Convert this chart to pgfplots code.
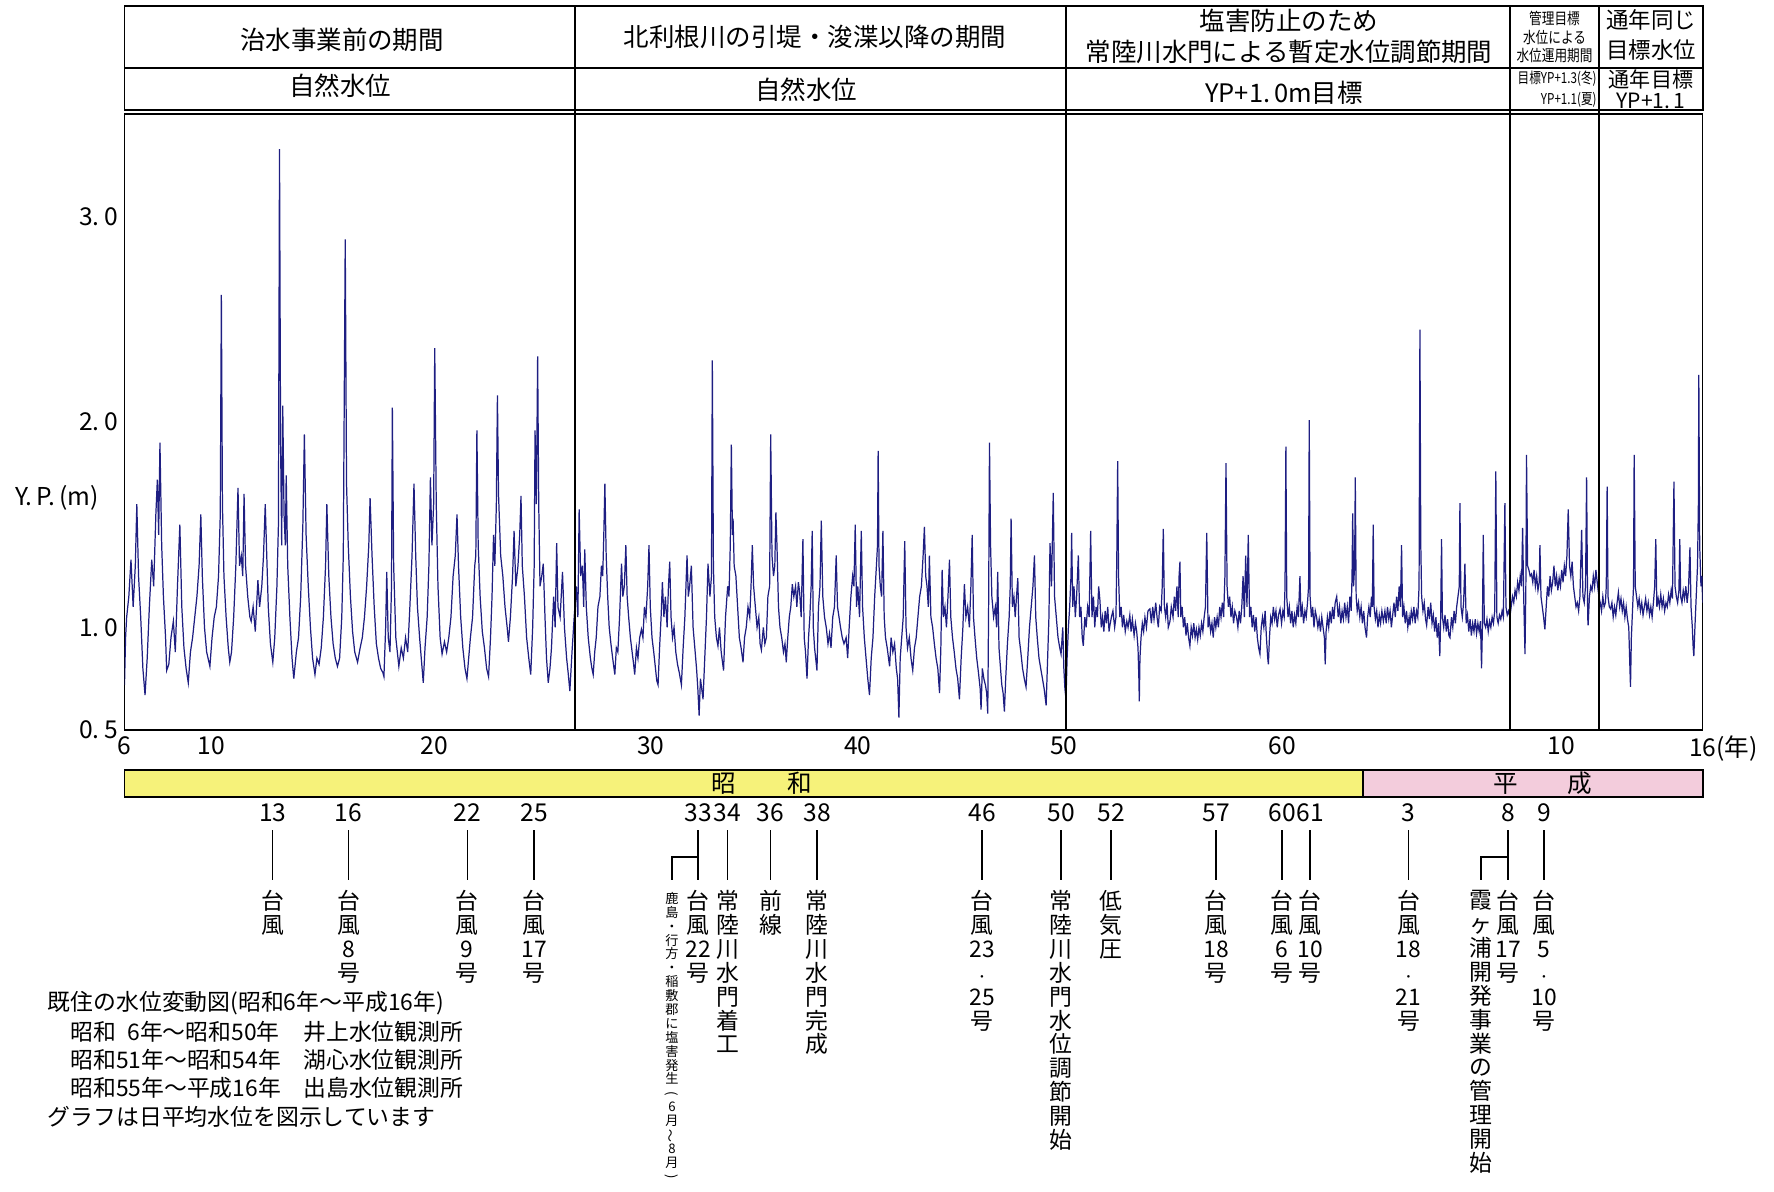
\documentclass[border=0pt]{standalone}
\usepackage{pgfplots}
\pgfplotsset{compat=1.18}
\usepackage{graphicx}
\usepackage{fontspec}
\setmainfont{Noto Sans CJK JP}
\definecolor{navyline}{RGB}{30,30,130}
\definecolor{showa}{RGB}{246,242,122}
\definecolor{heisei}{RGB}{243,204,220}
\begin{document}
\begin{tikzpicture}[x=0.02cm,y=-0.02cm]
\useasboundingbox (0,0) rectangle (1774,1191);
\coordinate (plotSW) at (124.5,730);
\begin{axis}[at={(plotSW)}, anchor=south west, scale only axis,
  width=31.57cm, height=12.32cm,
  xmin=6, xmax=79.0, ymin=0.5, ymax=3.5,
  axis line style={black, line width=0.8pt},
  major tick length=0pt,
  xtick={6,10.03,20.34,30.34,39.92,49.45,59.55,72.47,79.0},
  xticklabels={6,10,20,30,40,50,60,10,16\rlap{(年)}},
  ytick={0.5,1,2,3},
  yticklabels={0.\hspace{0.2em}5,1.\hspace{0.2em}0,2.\hspace{0.2em}0,3.\hspace{0.2em}0},
  tick label style={font=\fontsize{14}{14}\selectfont},
  clip=true]
\addplot[navyline, line width=0.7pt, mark=none] coordinates {
(6.0,0.72)(6.05,0.95)(6.1,1.05)(6.2,1.15)(6.3,1.33)(6.4,1.10)(6.5,1.30)(6.57,1.60)(6.65,1.25)(6.75,1.05)(6.85,0.80)(6.95,0.67)
(7.05,0.85)(7.15,1.10)(7.26,1.33)(7.35,1.20)(7.45,1.55)(7.52,1.72)(7.58,1.45)(7.64,1.90)(7.72,1.40)(7.8,1.15)(7.9,0.95)(7.95,0.79)
(8.05,0.82)(8.15,0.95)(8.26,1.03)(8.35,0.88)(8.45,1.20)(8.56,1.50)(8.65,1.10)(8.75,0.90)(8.85,0.80)(8.95,0.73)
(9.05,0.88)(9.15,0.95)(9.25,1.05)(9.35,1.15)(9.45,1.30)(9.53,1.55)(9.6,1.25)(9.7,1.00)(9.8,0.88)(9.95,0.81)
(10.05,0.95)(10.15,1.05)(10.25,1.10)(10.35,1.25)(10.43,1.55)(10.48,2.62)(10.53,1.60)(10.6,1.25)(10.7,1.05)(10.8,0.90)(10.87,0.83)(10.95,0.88)
(11.05,1.05)(11.15,1.30)(11.25,1.68)(11.32,1.30)(11.4,1.35)(11.47,1.25)(11.53,1.65)(11.6,1.30)(11.7,1.15)(11.8,1.05)(11.86,1.03)(11.95,1.10)
(12.05,0.98)(12.17,1.23)(12.25,1.10)(12.35,1.20)(12.43,1.35)(12.51,1.60)(12.58,1.35)(12.65,1.10)(12.75,0.92)(12.86,0.83)(12.95,0.95)
(13.05,1.20)(13.12,1.50)(13.17,3.33)(13.22,1.90)(13.27,1.40)(13.32,2.08)(13.38,1.55)(13.44,1.40)(13.48,1.74)(13.55,1.30)(13.65,1.05)(13.75,0.85)(13.83,0.75)(13.95,0.88)
(14.05,0.95)(14.15,1.15)(14.25,1.50)(14.32,1.94)(14.4,1.45)(14.5,1.20)(14.6,1.00)(14.7,0.85)(14.81,0.77)(14.9,0.85)
(15.0,0.82)(15.1,0.90)(15.2,1.05)(15.3,1.30)(15.36,1.60)(15.45,1.25)(15.55,1.05)(15.65,0.92)(15.75,0.85)(15.85,0.81)(15.95,0.85)
(16.05,1.05)(16.12,1.35)(16.21,2.89)(16.27,1.70)(16.35,1.40)(16.45,1.15)(16.55,0.98)(16.65,0.88)(16.78,0.83)(16.9,0.90)
(17.0,0.95)(17.1,1.05)(17.2,1.20)(17.3,1.40)(17.36,1.63)(17.45,1.35)(17.55,1.10)(17.65,0.92)(17.75,0.85)(17.85,0.80)(17.95,0.78)
(18.0,0.76)(18.08,1.00)(18.13,1.27)(18.2,0.95)(18.28,0.88)(18.35,1.20)(18.39,2.07)(18.45,1.30)(18.55,0.95)(18.62,0.88)(18.69,0.81)(18.8,0.90)(18.9,0.85)
(19.0,0.95)(19.1,0.88)(19.2,1.10)(19.3,1.35)(19.39,1.70)(19.47,1.35)(19.55,1.10)(19.65,0.95)(19.75,0.82)(19.82,0.73)(19.9,0.90)
(20.0,1.05)(20.08,1.30)(20.15,1.73)(20.22,1.40)(20.3,1.60)(20.35,2.36)(20.42,1.60)(20.5,1.20)(20.6,0.95)(20.69,0.87)(20.8,0.93)(20.9,0.88)
(21.0,0.95)(21.1,1.05)(21.2,1.25)(21.3,1.35)(21.38,1.55)(21.45,1.30)(21.55,1.05)(21.65,0.90)(21.75,0.80)(21.84,0.75)(21.92,0.85)
(22.0,0.95)(22.1,1.05)(22.2,1.30)(22.25,1.35)(22.3,1.96)(22.36,1.40)(22.45,1.15)(22.55,0.98)(22.65,0.90)(22.75,0.80)(22.84,0.76)(22.93,0.95)
(23.0,1.15)(23.07,1.45)(23.13,1.30)(23.2,1.60)(23.25,2.13)(23.3,1.65)(23.4,1.35)(23.5,1.25)(23.6,1.10)(23.7,1.00)(23.76,0.93)(23.85,1.05)(23.95,1.25)
(24.02,1.47)(24.1,1.20)(24.2,1.30)(24.28,1.45)(24.34,1.64)(24.4,1.30)(24.5,1.15)(24.6,0.95)(24.7,0.85)(24.79,0.77)(24.88,1.00)(24.95,1.30)(24.99,1.96)
(25.05,1.60)(25.11,2.32)(25.16,1.60)(25.22,1.20)(25.3,1.25)(25.37,1.31)(25.45,1.05)(25.52,0.85)(25.6,0.73)(25.68,0.80)(25.75,0.90)(25.85,1.15)(25.92,1.00)(25.99,1.41)
(26.05,1.10)(26.15,1.05)(26.26,1.27)(26.35,1.00)(26.45,0.85)(26.52,0.78)(26.6,0.69)(26.7,0.88)(26.8,1.05)
(26.9,1.20)(26.97,1.05)(27.03,1.575)(27.1,1.25)(27.18,1.30)(27.24,1.10)(27.29,1.38)(27.36,1.10)(27.45,0.95)(27.55,0.85)(27.62,0.80)(27.68,0.77)(27.75,0.88)(27.82,0.95)(27.9,1.10)(27.99,1.15)
(28.06,1.30)(28.12,1.25)(28.17,1.45)(28.22,1.70)(28.28,1.35)(28.35,1.15)(28.42,1.00)(28.5,0.92)(28.58,0.85)(28.68,0.77)(28.75,0.90)(28.82,0.88)(28.9,1.05)(28.99,1.31)
(29.05,1.15)(29.12,1.20)(29.19,1.40)(29.25,1.15)(29.32,1.05)(29.4,0.95)(29.48,0.88)(29.55,0.82)(29.6,0.77)(29.68,0.90)(29.75,0.85)(29.83,0.95)(29.91,0.99)(29.98,0.95)
(30.05,1.10)(30.12,1.05)(30.2,1.20)(30.26,1.40)(30.32,1.10)(30.4,0.95)(30.48,0.88)(30.56,0.80)(30.62,0.74)(30.68,0.72)(30.75,0.90)(30.82,1.05)(30.88,1.22)(30.95,1.05)
(31.02,1.15)(31.1,1.00)(31.16,1.20)(31.22,1.32)(31.28,1.05)(31.35,0.95)(31.42,1.00)(31.5,0.88)(31.58,0.82)(31.66,0.78)(31.76,0.72)(31.84,0.90)(31.92,1.05)
(32.02,1.35)(32.08,1.15)(32.14,1.20)(32.22,1.30)(32.3,1.00)(32.38,0.90)(32.46,0.80)(32.52,0.70)(32.58,0.57)(32.64,0.75)(32.7,0.70)(32.76,0.65)(32.84,0.85)(32.92,1.05)(32.99,1.31)
(33.08,1.15)(33.15,1.25)(33.19,2.30)(33.24,1.30)(33.3,1.05)(33.38,0.95)(33.45,0.91)(33.52,1.00)(33.6,0.88)(33.71,0.79)(33.8,1.05)(33.9,1.20)(33.96,1.15)
(34.02,1.40)(34.07,1.89)(34.12,1.45)(34.15,1.53)(34.2,1.30)(34.28,1.25)(34.36,1.10)(34.44,0.95)(34.52,0.90)(34.61,0.83)(34.68,0.95)(34.76,1.00)(34.84,1.10)(34.92,1.05)(34.98,1.20)
(35.04,1.40)(35.1,1.20)(35.18,1.10)(35.26,1.00)(35.34,1.05)(35.4,0.92)(35.46,0.89)(35.55,1.00)(35.62,0.92)(35.69,0.95)(35.76,1.15)(35.84,1.20)(35.89,1.94)(35.95,1.35)
(36.02,1.25)(36.08,1.30)(36.13,1.56)(36.18,1.40)(36.25,1.10)(36.32,1.00)(36.4,0.95)(36.48,0.88)(36.55,0.92)(36.61,0.83)(36.68,0.95)(36.75,1.05)(36.82,1.10)(36.89,1.21)(36.96,1.15)
(37.04,1.20)(37.1,1.10)(37.17,1.22)(37.23,1.17)(37.3,1.05)(37.38,1.43)(37.44,0.95)(37.5,0.88)(37.57,0.75)(37.64,0.95)(37.7,1.05)(37.76,1.20)(37.81,1.47)(37.86,1.00)(37.92,0.90)(37.97,0.85)
(38.03,0.79)(38.1,1.10)(38.17,1.20)(38.23,1.52)(38.3,1.15)(38.38,1.05)(38.46,1.00)(38.54,0.92)(38.61,0.97)(38.68,0.90)(38.76,1.05)(38.84,1.10)(38.92,1.35)(38.98,1.10)
(39.05,1.05)(39.12,1.00)(39.2,0.95)(39.28,0.92)(39.38,0.95)(39.45,0.85)(39.52,1.00)(39.6,1.15)(39.68,1.25)(39.74,1.20)(39.8,1.50)(39.86,1.10)(39.92,1.20)
(40.0,1.05)(40.08,1.47)(40.14,1.10)(40.22,0.95)(40.3,0.85)(40.38,0.75)(40.46,0.67)(40.54,0.85)(40.62,0.95)(40.7,1.15)(40.78,1.30)(40.83,1.40)(40.86,1.86)(40.9,1.30)(40.96,1.20)
(41.02,1.15)(41.08,1.47)(41.14,1.05)(41.2,0.95)(41.28,0.90)(41.34,0.85)(41.39,0.81)(41.46,0.95)(41.54,0.88)(41.62,0.92)(41.7,0.80)(41.76,0.75)(41.82,0.56)(41.88,0.85)(41.95,0.95)
(42.02,1.05)(42.09,1.42)(42.15,1.00)(42.22,0.90)(42.3,0.95)(42.38,0.85)(42.46,0.79)(42.54,0.90)(42.62,0.95)(42.7,1.05)(42.78,1.15)(42.86,1.20)(42.94,1.35)
(43.0,1.49)(43.06,1.25)(43.12,1.20)(43.18,1.10)(43.23,1.35)(43.3,1.05)(43.38,1.00)(43.46,0.92)(43.54,0.85)(43.62,0.80)(43.7,0.68)(43.76,0.90)(43.82,1.28)(43.88,1.05)(43.95,1.10)
(44.02,1.00)(44.09,1.15)(44.16,1.33)(44.22,1.05)(44.3,0.95)(44.38,0.88)(44.46,0.80)(44.54,0.75)(44.62,0.65)(44.7,0.85)(44.78,1.00)(44.85,1.21)(44.92,1.05)
(45.0,1.10)(45.08,1.00)(45.15,1.20)(45.21,1.45)(45.27,1.05)(45.34,0.95)(45.42,0.85)(45.5,0.78)(45.58,0.70)(45.62,0.60)(45.68,0.80)(45.75,0.75)(45.82,0.72)(45.88,0.68)(45.93,0.58)(45.97,1.10)
(46.01,1.90)(46.06,1.40)(46.12,1.15)(46.2,1.05)(46.28,1.10)(46.34,1.00)(46.39,1.27)(46.45,0.90)(46.52,0.80)(46.58,0.72)(46.64,0.68)(46.7,0.59)(46.76,0.75)(46.84,0.92)(46.92,1.05)(46.97,1.20)
(47.01,1.53)(47.07,1.10)(47.14,1.15)(47.2,1.05)(47.26,1.15)(47.32,1.24)(47.38,0.95)(47.46,0.88)(47.54,0.80)(47.62,0.75)(47.7,0.71)(47.78,0.85)(47.86,1.00)(47.94,1.10)
(48.02,1.20)(48.09,1.35)(48.15,1.05)(48.22,0.95)(48.3,0.85)(48.38,0.80)(48.46,0.75)(48.54,0.70)(48.63,0.62)(48.7,0.85)(48.76,1.05)(48.81,1.41)(48.88,1.20)(48.96,1.655)
(49.02,1.15)(49.1,1.05)(49.18,0.95)(49.26,0.90)(49.32,0.87)(49.4,1.00)(49.45,0.80)(49.5,0.70)(49.55,0.65)
(49.6,0.85)(49.66,1.00)(49.72,1.10)(49.78,1.25)(49.81,1.46)(49.86,1.10)(49.92,1.20)(49.98,1.05)
(50.04,1.15)(50.12,1.35)(50.18,1.05)(50.24,1.10)(50.3,0.95)(50.35,0.91)(50.42,1.05)(50.48,1.00)(50.55,1.10)(50.62,1.05)(50.69,1.47)(50.75,1.05)(50.82,1.15)(50.88,1.00)(50.94,1.10)
(51.0,1.05)(51.06,1.20)(51.12,1.13)(51.18,1.00)(51.24,1.05)(51.3,0.98)(51.36,1.08)(51.42,1.02)(51.48,1.10)(51.54,0.98)(51.58,1.01)(51.65,1.05)(51.72,1.08)(51.8,1.00)(51.86,1.05)(51.9,1.35)(51.94,1.81)(51.98,1.25)
(52.04,1.05)(52.1,1.10)(52.16,1.00)(52.22,1.06)(52.29,0.98)(52.36,1.03)(52.42,1.00)(52.5,1.06)(52.56,0.98)(52.62,1.04)(52.7,0.96)(52.76,1.02)(52.82,0.98)(52.88,0.90)(52.92,0.75)(52.94,0.64)(52.97,0.85)
(53.02,0.95)(53.08,1.02)(53.14,0.98)(53.2,1.05)(53.27,1.00)(53.34,1.08)(53.43,1.09)(53.5,1.02)(53.56,1.10)(53.62,1.04)(53.7,1.12)(53.76,1.05)(53.82,1.00)(53.88,1.10)(53.95,1.08)
(54.0,1.20)(54.05,1.48)(54.1,1.10)(54.16,1.05)(54.22,1.12)(54.28,1.00)(54.36,1.03)(54.42,1.10)(54.5,1.05)(54.56,1.15)(54.62,1.08)(54.68,1.20)(54.74,1.05)(54.78,1.25)(54.82,1.32)(54.86,1.05)(54.92,1.10)(54.98,1.00)
(55.04,1.05)(55.1,0.96)(55.16,1.02)(55.22,0.95)(55.28,0.91)(55.34,1.00)(55.4,0.96)(55.46,1.02)(55.52,0.95)(55.58,0.99)(55.64,0.94)(55.7,1.00)(55.76,0.96)(55.82,1.02)(55.88,0.98)(55.94,1.05)
(56.0,1.10)(56.06,1.46)(56.12,1.00)(56.18,1.04)(56.24,0.98)(56.3,1.02)(56.36,0.95)(56.42,1.05)(56.48,1.00)(56.54,1.05)(56.6,1.00)(56.66,1.10)(56.72,1.05)(56.78,1.12)(56.84,1.05)(56.9,1.25)(56.95,1.80)
(57.0,1.20)(57.06,1.10)(57.12,1.15)(57.18,1.05)(57.24,1.10)(57.3,1.02)(57.36,1.08)(57.44,1.05)(57.5,1.00)(57.56,1.08)(57.62,1.02)(57.68,1.10)(57.74,1.25)(57.8,1.05)(57.86,1.35)(57.92,1.10)(57.98,1.45)
(58.04,1.05)(58.1,1.10)(58.16,1.00)(58.22,1.06)(58.28,0.98)(58.34,1.05)(58.4,0.95)(58.46,0.90)(58.52,0.87)(58.58,1.00)(58.64,1.05)(58.7,1.00)(58.76,1.08)(58.82,0.95)(58.88,0.85)(58.91,0.82)(58.96,0.95)
(59.02,1.05)(59.08,1.02)(59.14,1.10)(59.2,1.04)(59.26,1.08)(59.32,1.00)(59.38,1.06)(59.45,1.09)(59.52,1.02)(59.58,1.08)(59.64,1.05)(59.68,1.20)(59.72,1.88)(59.76,1.15)(59.82,1.05)(59.88,1.10)(59.94,1.02)
(60.0,1.08)(60.06,1.00)(60.12,1.06)(60.18,1.02)(60.24,1.10)(60.3,1.05)(60.37,1.25)(60.42,1.05)(60.48,1.10)(60.54,1.02)(60.6,1.08)(60.66,1.05)(60.72,1.12)(60.77,1.20)(60.8,2.01)(60.84,1.15)(60.9,1.05)(60.96,1.10)
(61.02,1.00)(61.08,1.08)(61.14,1.05)(61.2,1.00)(61.26,1.04)(61.32,0.98)(61.38,1.05)(61.44,1.00)(61.5,0.95)(61.54,0.82)(61.58,0.98)(61.64,1.05)(61.7,1.00)(61.76,1.08)(61.82,1.02)(61.88,1.10)(61.94,1.04)
(62.0,1.12)(62.07,1.15)(62.14,1.05)(62.2,1.10)(62.26,1.02)(62.32,1.08)(62.38,1.04)(62.44,1.12)(62.5,1.05)(62.56,1.10)(62.62,1.02)(62.68,1.15)(62.74,1.08)(62.78,1.25)(62.81,1.555)(62.85,1.20)(62.9,1.30)(62.93,1.73)(62.97,1.15)
(63.02,1.08)(63.08,1.12)(63.14,1.05)(63.2,1.10)(63.26,1.02)(63.32,1.08)(63.38,1.00)(63.45,0.95)(63.5,1.05)(63.56,1.10)(63.62,1.05)(63.68,1.15)(63.72,1.10)(63.76,1.50)(63.8,1.10)(63.86,1.04)(63.92,1.08)(63.98,1.00)
(64.04,1.06)(64.1,1.02)(64.16,1.08)(64.23,1.03)(64.3,1.08)(64.36,1.02)(64.42,1.10)(64.48,1.04)(64.54,1.08)(64.6,1.00)(64.66,1.06)(64.72,1.12)(64.78,1.05)(64.84,1.15)(64.9,1.08)(64.96,1.20)
(65.02,1.10)(65.07,1.40)(65.12,1.05)(65.18,1.10)(65.24,1.02)(65.3,1.08)(65.36,1.00)(65.42,1.05)(65.46,1.01)(65.52,1.08)(65.58,1.04)(65.64,1.10)(65.7,1.02)(65.76,1.08)(65.82,1.05)(65.88,1.20)(65.92,2.45)(65.96,1.40)
(66.0,1.15)(66.06,1.08)(66.12,1.12)(66.18,1.04)(66.23,1.01)(66.3,1.10)(66.36,1.04)(66.42,1.12)(66.48,1.02)(66.54,1.06)(66.6,0.98)(66.66,1.05)(66.72,0.95)(66.78,1.02)(66.84,0.86)(66.88,1.05)(66.92,1.43)(66.96,1.05)
(67.02,1.00)(67.08,1.06)(67.14,0.98)(67.2,1.04)(67.26,0.96)(67.31,0.95)(67.38,1.05)(67.44,1.00)(67.5,1.08)(67.56,1.02)(67.62,1.10)(67.68,1.15)(67.74,1.20)(67.77,1.605)(67.82,1.10)(67.88,1.05)(67.94,1.12)
(68.0,1.31)(68.06,1.02)(68.12,1.06)(68.18,0.98)(68.24,1.04)(68.3,0.96)(68.36,1.02)(68.42,0.98)(68.48,1.04)(68.54,0.97)(68.6,1.02)(68.66,0.98)(68.72,1.03)(68.77,0.80)(68.81,1.00)(68.85,1.45)(68.9,1.02)(68.96,1.00)
(69.02,1.04)(69.08,0.98)(69.14,1.03)(69.2,1.00)(69.26,1.05)(69.32,1.02)(69.38,1.08)(69.43,1.76)(69.48,1.05)(69.54,1.02)(69.6,1.06)(69.66,1.04)(69.72,1.08)(69.78,1.05)(69.85,1.605)(69.9,1.10)(69.96,1.06)
(70.02,1.08)(70.08,1.05)(70.14,1.10)(70.2,1.15)(70.26,1.12)(70.32,1.18)(70.38,1.15)(70.44,1.22)(70.5,1.18)(70.56,1.25)(70.62,1.20)(70.67,1.485)(70.72,1.15)(70.78,0.87)(70.82,1.20)(70.85,1.84)(70.9,1.30)(70.96,1.28)
(71.02,1.25)(71.08,1.26)(71.14,1.22)(71.2,1.28)(71.26,1.20)(71.32,1.25)(71.38,1.18)(71.44,1.22)(71.47,1.40)(71.52,1.15)(71.58,1.10)(71.64,1.05)(71.7,0.99)(71.76,1.10)(71.82,1.20)(71.88,1.15)(71.94,1.25)
(72.0,1.18)(72.06,1.22)(72.12,1.30)(72.18,1.20)(72.24,1.25)(72.3,1.18)(72.36,1.24)(72.42,1.20)(72.48,1.28)(72.54,1.22)(72.6,1.30)(72.66,1.25)(72.72,1.35)(72.78,1.575)(72.84,1.30)(72.9,1.25)(72.96,1.32)
(73.02,1.20)(73.08,1.15)(73.14,1.10)(73.2,1.12)(73.26,1.08)(73.32,1.15)(73.4,1.475)(73.46,1.15)(73.52,1.12)(73.58,1.20)(73.63,1.73)(73.68,1.05)(73.7,1.01)(73.76,1.15)(73.82,1.20)(73.88,1.18)(73.94,1.25)
(74.0,1.20)(74.06,1.28)(74.12,1.22)(74.2,1.15)(74.26,1.12)(74.32,1.08)(74.38,1.15)(74.44,1.10)(74.5,1.12)(74.54,1.20)(74.58,1.685)(74.62,1.15)(74.68,1.10)(74.74,1.09)(74.8,1.12)(74.86,1.05)(74.92,1.10)(74.98,1.06)
(75.04,1.12)(75.1,1.17)(75.16,1.10)(75.22,1.14)(75.28,1.08)(75.34,1.12)(75.4,1.05)(75.46,1.10)(75.52,1.04)(75.58,1.00)(75.62,0.85)(75.66,0.71)(75.7,0.95)(75.76,1.10)(75.8,1.20)(75.83,1.84)(75.88,1.20)(75.94,1.15)
(76.0,1.10)(76.06,1.14)(76.12,1.08)(76.18,1.12)(76.24,1.06)(76.3,1.10)(76.36,1.14)(76.42,1.08)(76.48,1.12)(76.54,1.06)(76.6,1.10)(76.66,1.05)(76.72,1.12)(76.78,1.20)(76.83,1.43)(76.88,1.10)(76.94,1.14)
(77.0,1.10)(77.06,1.16)(77.12,1.10)(77.18,1.14)(77.24,1.08)(77.3,1.12)(77.36,1.10)(77.42,1.16)(77.48,1.12)(77.54,1.18)(77.6,1.14)(77.67,1.71)(77.72,1.20)(77.78,1.15)(77.84,1.12)(77.9,1.18)(77.94,1.43)(77.98,1.15)
(78.04,1.12)(78.1,1.18)(78.16,1.14)(78.22,1.20)(78.28,1.12)(78.34,1.18)(78.41,1.39)(78.46,1.10)(78.52,1.00)(78.56,0.90)(78.59,0.86)(78.64,1.00)(78.7,1.15)(78.76,1.30)(78.8,1.60)(78.82,2.23)(78.86,1.40)(78.92,1.20)(78.96,1.25)(79.0,1.12)
};
\end{axis}
% header
\draw[line width=0.8pt] (124.5,6) rectangle (1703,110);
\draw[line width=0.8pt] (124.5,68) -- (1703,68);
\foreach \xx in {574.8,1066,1509.9,1598.8} \draw[line width=0.8pt] (\xx,6) -- (\xx,730);
\begin{scope}[every node/.style={inner sep=0pt}]
\node[font=\fontsize{14.5}{14.5}\selectfont] at (342,40) {治水事業前の期間};
\node[font=\fontsize{14.5}{14.5}\selectfont] at (340,86) {自然水位};
\node[font=\fontsize{14.5}{14.5}\selectfont] at (815,37) {北利根川の引堤・浚渫以降の期間};
\node[font=\fontsize{14.5}{14.5}\selectfont] at (806,90) {自然水位};
\node[font=\fontsize{14.5}{17.6}\selectfont, align=center] at (1289,36) {塩害防止のため\\常陸川水門による暫定水位調節期間};
\node[font=\fontsize{14.5}{14.5}\selectfont] at (1284,93) {YP+1.\hspace{0.15em}0m目標};
\node[font=\fontsize{9}{10.5}\selectfont, align=center] at (1554.5,37) {\scalebox{0.8}[1]{管理目標}\\\scalebox{0.8}[1]{水位による}\\\scalebox{0.8}[1]{水位運用期間}};
\node[font=\fontsize{8.5}{11.7}\selectfont, align=right, anchor=east] at (1597,89) {\scalebox{0.78}[1]{目標YP+1.3(冬)}\\\scalebox{0.78}[1]{YP+1.1(夏)}};
\node[font=\fontsize{12.8}{17}\selectfont, align=center] at (1651,35) {通年同じ\\目標水位};
\node[font=\fontsize{12}{11.7}\selectfont, align=center] at (1651,89) {通年目標\\YP+1.\hspace{0.15em}1};
% y label
\node[font=\fontsize{14}{14}\selectfont] at (57,498) {Y.\hspace{0.15em}P.\hspace{0.15em}(m)};
\end{scope}
% era bar
\draw[line width=0.8pt, fill=showa] (124.5,770) rectangle (1363,797);
\draw[line width=0.8pt, fill=heisei] (1363,770) rectangle (1703,797);
\node[inner sep=0pt, font=\fontsize{14}{14}\selectfont] at (762,783.5) {昭\hspace{2.1em}和};
\node[inner sep=0pt, font=\fontsize{14}{14}\selectfont] at (1543,783.5) {平\hspace{2.0em}成};
% annotations
\begin{scope}[every node/.style={inner sep=0pt}]
\tikzset{num/.style={font=\fontsize{14}{14}\selectfont, anchor=center},
         vt/.style={font=\fontsize{13}{13.6}\selectfont, anchor=north, align=center}}
\foreach \xx/\nn in {272.7/13,348.5/16,467.3/22,534/25,698/33,727.5/34,770.5/36,817/38,982/46,1061/50,1111/52,1216/57,1282/60,1310/61,1408.6/3,1508/8,1544/9}{
  \node[num] at (\xx,813) {\nn};
  \draw[line width=0.6pt] (\xx,830) -- (\xx,880);
}
\draw[line width=0.6pt] (698,857) -- (672,857) -- (672,880);
\draw[line width=0.6pt] (1508,857) -- (1481,857) -- (1481,880);
\node[vt] at (272.7,890) {台\\風};
\node[vt] at (348.5,890) {台\\風\\8\\号};
\node[vt] at (467.3,890) {台\\風\\9\\号};
\node[vt] at (534,890) {台\\風\\17\\号};
\node[vt] at (698,890) {台\\風\\22\\号};
\node[font=\fontsize{7.5}{7.9}\selectfont, anchor=north, align=center] at (672,892) {鹿\\島\\・\\行\\方\\・\\稲\\敷\\郡\\に\\塩\\害\\発\\生\\\rotatebox[origin=c]{-90}{(}\\6\\月\\\rotatebox[origin=c]{90}{～}\\8\\月\\\rotatebox[origin=c]{-90}{)}};
\node[vt] at (727.5,890) {常\\陸\\川\\水\\門\\着\\工};
\node[vt] at (770.5,890) {前\\線};
\node[vt] at (817,890) {常\\陸\\川\\水\\門\\完\\成};
\node[vt] at (982,890) {台\\風\\23\\{\scriptsize ・}\\25\\号};
\node[vt] at (1061,890) {常\\陸\\川\\水\\門\\水\\位\\調\\節\\開\\始};
\node[vt] at (1111,890) {低\\気\\圧};
\node[vt] at (1216,890) {台\\風\\18\\号};
\node[vt] at (1282,890) {台\\風\\6\\号};
\node[vt] at (1310,890) {台\\風\\10\\号};
\node[vt] at (1408.6,890) {台\\風\\18\\{\scriptsize ・}\\21\\号};
\node[vt] at (1481,890) {霞\\ヶ\\浦\\開\\発\\事\\業\\の\\管\\理\\開\\始};
\node[vt] at (1508,890) {台\\風\\17\\号};
\node[vt] at (1544,890) {台\\風\\5\\{\scriptsize ・}\\10\\号};
% note
\tikzset{note/.style={font=\fontsize{13}{13}\selectfont, anchor=west}}
\node[note] at (47.5,1003.5) {既住の水位変動図(昭和6年～平成16年)};
\node[note] at (70,1032) {昭和\hspace{0.5em}6年～昭和50年};
\node[note] at (303,1032) {井上水位観測所};
\node[note] at (70,1060) {昭和51年～昭和54年};
\node[note] at (303,1060) {湖心水位観測所};
\node[note] at (70,1088) {昭和55年～平成16年};
\node[note] at (303,1088) {出島水位観測所};
\node[note] at (47.5,1117) {グラフは日平均水位を図示しています};
\end{scope}
\end{tikzpicture}
\end{document}
